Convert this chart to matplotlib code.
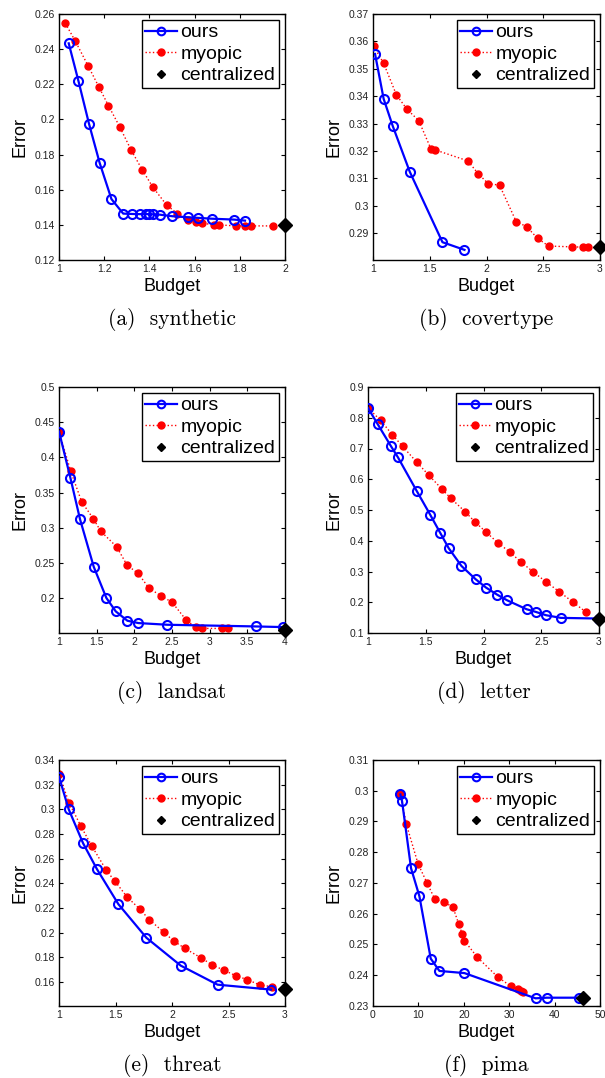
import matplotlib
matplotlib.use("Agg")
import matplotlib.pyplot as plt
from matplotlib.ticker import FuncFormatter

# ---- data ----
# (a) synthetic
syn_ours_x = [1.043, 1.086, 1.133, 1.180, 1.232, 1.284, 1.325, 1.357, 1.387, 1.399,
              1.414, 1.446, 1.502, 1.573, 1.613, 1.677, 1.775, 1.823]
syn_ours_y = [0.2433, 0.2219, 0.1974, 0.1752, 0.1547, 0.1464, 0.1462, 0.1461, 0.1461, 0.1461,
              0.1460, 0.1458, 0.1449, 0.1443, 0.1440, 0.1435, 0.1430, 0.1424]
syn_myo_x = [1.028, 1.072, 1.130, 1.176, 1.219, 1.269, 1.319, 1.368, 1.415, 1.476,
             1.524, 1.572, 1.604, 1.632, 1.685, 1.706, 1.783, 1.824, 1.851, 1.948]
syn_myo_y = [0.2547, 0.2446, 0.2302, 0.2186, 0.2078, 0.1957, 0.1826, 0.1714, 0.1615, 0.1513,
             0.1464, 0.1428, 0.1414, 0.1409, 0.1401, 0.1400, 0.1394, 0.1394, 0.1394, 0.1394]
syn_cen = (2.0, 0.1398)

# (b) covertype
cov_ours_x = [1.018, 1.094, 1.174, 1.324, 1.612, 1.806]
cov_ours_y = [0.3554, 0.3390, 0.3291, 0.3124, 0.2867, 0.2839]
cov_myo_x = [1.006, 1.094, 1.206, 1.300, 1.403, 1.512, 1.547, 1.835, 1.929, 2.015,
             2.115, 2.262, 2.353, 2.450, 2.547, 2.750, 2.847, 2.894]
cov_myo_y = [0.3582, 0.3520, 0.3405, 0.3352, 0.3311, 0.3206, 0.3204, 0.3164, 0.3116, 0.3081,
             0.3075, 0.2942, 0.2924, 0.2881, 0.2853, 0.2850, 0.2849, 0.2849]
cov_cen = (3.0, 0.2848)

# (c) landsat
lan_ours_x = [1.0, 1.151, 1.279, 1.461, 1.629, 1.753, 1.908, 2.054, 2.440, 3.614, 3.969]
lan_ours_y = [0.4368, 0.3712, 0.3123, 0.2448, 0.2005, 0.1815, 0.1682, 0.1649, 0.1625, 0.1601, 0.1592]
lan_myo_x = [1.0, 1.155, 1.301, 1.456, 1.554, 1.766, 1.904, 2.050, 2.196, 2.356,
             2.502, 2.692, 2.825, 2.896, 3.167, 3.237]
lan_myo_y = [0.4368, 0.3807, 0.3370, 0.3130, 0.2953, 0.2731, 0.2470, 0.2355, 0.2142, 0.2035,
             0.1943, 0.1687, 0.1587, 0.1573, 0.1573, 0.1573]
lan_cen = (4.0, 0.1549)

# (d) letter
let_ours_x = [1.0, 1.083, 1.196, 1.259, 1.420, 1.538, 1.624, 1.699, 1.809, 1.932,
              2.022, 2.117, 2.203, 2.373, 2.453, 2.542, 2.669, 3.0]
let_ours_y = [0.8317, 0.7797, 0.7093, 0.6714, 0.5630, 0.4850, 0.4265, 0.3756, 0.3180, 0.2748,
              0.2477, 0.2250, 0.2066, 0.1773, 0.1686, 0.1578, 0.1492, 0.1470]
let_myo_x = [1.0, 1.109, 1.210, 1.299, 1.423, 1.527, 1.639, 1.717, 1.840, 1.929,
             2.024, 2.122, 2.226, 2.327, 2.430, 2.542, 2.658, 2.776, 2.885]
let_myo_y = [0.8317, 0.7916, 0.7451, 0.7072, 0.6551, 0.6129, 0.5685, 0.5381, 0.4948, 0.4601,
             0.4277, 0.3940, 0.3637, 0.3301, 0.2987, 0.2662, 0.2337, 0.2001, 0.1686]
let_cen = (3.0, 0.1470)

# (e) threat
thr_ours_x = [1.0, 1.086, 1.213, 1.337, 1.526, 1.774, 2.078, 2.403, 2.876]
thr_ours_y = [0.3264, 0.3000, 0.2725, 0.2513, 0.2230, 0.1958, 0.1732, 0.1578, 0.1538]
thr_myo_x = [1.0, 1.089, 1.195, 1.290, 1.420, 1.493, 1.603, 1.718, 1.798, 1.925,
             2.016, 2.114, 2.256, 2.356, 2.456, 2.563, 2.666, 2.776, 2.882]
thr_myo_y = [0.3283, 0.3054, 0.2861, 0.2703, 0.2504, 0.2419, 0.2289, 0.2188, 0.2106, 0.2005,
             0.1932, 0.1872, 0.1796, 0.1738, 0.1697, 0.1651, 0.1619, 0.1576, 0.1562]
thr_cen = (3.0, 0.1543)

# (f) pima
pim_ours_x = [6.03, 6.40, 8.38, 10.22, 12.72, 14.63, 20.15, 35.8, 38.24, 45.4]
pim_ours_y = [0.2988, 0.2966, 0.2748, 0.2657, 0.2454, 0.2414, 0.2407, 0.2325, 0.2327, 0.2327]
pim_myo_x = [6.03, 7.35, 9.93, 11.91, 13.60, 15.59, 17.57, 18.90, 19.63, 20.15,
             23.01, 27.43, 30.37, 31.84, 32.50, 33.09]
pim_myo_y = [0.2988, 0.2891, 0.2762, 0.2700, 0.2648, 0.2637, 0.2623, 0.2566, 0.2535, 0.2512,
             0.2458, 0.2395, 0.2364, 0.2354, 0.2350, 0.2345]
pim_cen = (46.3, 0.2327)

captions = ["(a)  synthetic", "(b)  covertype", "(c)  landsat",
            "(d)  letter", "(e)  threat", "(f)  pima"]
xtick_sets = [[1, 1.2, 1.4, 1.6, 1.8, 2],
              [1, 1.5, 2, 2.5, 3],
              [1, 1.5, 2, 2.5, 3, 3.5, 4],
              [1, 1.5, 2, 2.5, 3],
              [1, 1.5, 2, 2.5, 3],
              [0, 10, 20, 30, 40, 50]]
ytick_sets = [[0.12, 0.14, 0.16, 0.18, 0.2, 0.22, 0.24, 0.26],
              [0.29, 0.30, 0.31, 0.32, 0.33, 0.34, 0.35, 0.36, 0.37],
              [0.2, 0.25, 0.3, 0.35, 0.4, 0.45, 0.5],
              [0.1, 0.2, 0.3, 0.4, 0.5, 0.6, 0.7, 0.8, 0.9],
              [0.16, 0.18, 0.2, 0.22, 0.24, 0.26, 0.28, 0.3, 0.32, 0.34],
              [0.23, 0.24, 0.25, 0.26, 0.27, 0.28, 0.29, 0.3, 0.31]]
xlims = [(1, 2), (1, 3), (1, 4), (1, 3), (1, 3), (0, 50)]
ylims = [(0.12, 0.26), (0.2802, 0.37), (0.1508, 0.5), (0.1, 0.9), (0.1405, 0.34), (0.23, 0.31)]

panels = [
    (syn_ours_x, syn_ours_y, syn_myo_x, syn_myo_y, syn_cen),
    (cov_ours_x, cov_ours_y, cov_myo_x, cov_myo_y, cov_cen),
    (lan_ours_x, lan_ours_y, lan_myo_x, lan_myo_y, lan_cen),
    (let_ours_x, let_ours_y, let_myo_x, let_myo_y, let_cen),
    (thr_ours_x, thr_ours_y, thr_myo_x, thr_myo_y, thr_cen),
    (pim_ours_x, pim_ours_y, pim_myo_x, pim_myo_y, pim_cen),
]

# axes boxes in pixels: left, top, right, bottom
W, H = 605, 1078
boxes = [(59, 14, 285, 260), (373, 14, 600, 260),
         (59, 387, 285, 633), (368, 387, 599, 633),
         (59, 760, 285, 1006), (373, 760, 600, 1006)]
ylabel_x = [28, 343, 28, 343, 28, 343]

sans = ["Liberation Sans", "DejaVu Sans"]
fig = plt.figure(figsize=(W / 100, H / 100), dpi=100)
fmt = FuncFormatter(lambda v, p: f"{v:g}")

for i, (ox, oy, mx, my, cen) in enumerate(panels):
    l, t, r, b = boxes[i]
    ax = fig.add_axes([l / W, 1 - b / H, (r - l) / W, (b - t) / H])

    ax.plot(ox, oy, "-o", color="blue", lw=1.6, ms=6.5, mew=1.5,
            mfc="none", label="ours", zorder=3)
    ax.plot(mx, my, ":", color="red", lw=1.0, marker="o", ms=5, mec="red",
            mfc="red", label="myopic", zorder=2)
    ax.plot([cen[0]], [cen[1]], "D", color="black", ms=7, label="centralized",
            clip_on=False, zorder=4)

    ax.set_xlim(*xlims[i])
    ax.set_ylim(*ylims[i])
    ax.set_xticks(xtick_sets[i])
    ax.set_yticks(ytick_sets[i])
    ax.xaxis.set_major_formatter(fmt)
    ax.yaxis.set_major_formatter(fmt)
    ax.tick_params(direction="in", top=True, right=True, length=3, width=0.8,
                   labelsize=7.5, labelcolor="#222222", pad=3)
    for lab in ax.get_xticklabels() + ax.get_yticklabels():
        lab.set_family(sans)
    for s in ax.spines.values():
        s.set_linewidth(1.0)

    ax.set_xlabel("Budget", fontsize=13, family=sans)
    ax.set_ylabel("Error", fontsize=13, family=sans)
    ax.xaxis.set_label_coords(0.5, -18 / (b - t))
    ax.yaxis.set_label_coords((ylabel_x[i] - l) / (r - l), 0.5)

    leg = ax.legend(loc="upper right", prop={"family": sans, "size": 14},
                    frameon=True, fancybox=False, framealpha=1, edgecolor="black",
                    handlelength=1.6, handletextpad=0.2, labelspacing=0.2,
                    borderpad=0.2, borderaxespad=0.3)
    leg.get_frame().set_linewidth(1.0)
    hs = leg.legend_handles
    hs[0].set_markersize(5.5)
    hs[1].set_markersize(5)
    hs[2].set_markersize(4.5)

    # subfigure caption, baseline a fixed distance under the axes
    fig.text((l + r) / 2 / W, 1 - (b + 65) / H, captions[i], ha="center",
             va="baseline", fontsize=15.5, family="cmr10")

fig.savefig("out.png", dpi=100)
